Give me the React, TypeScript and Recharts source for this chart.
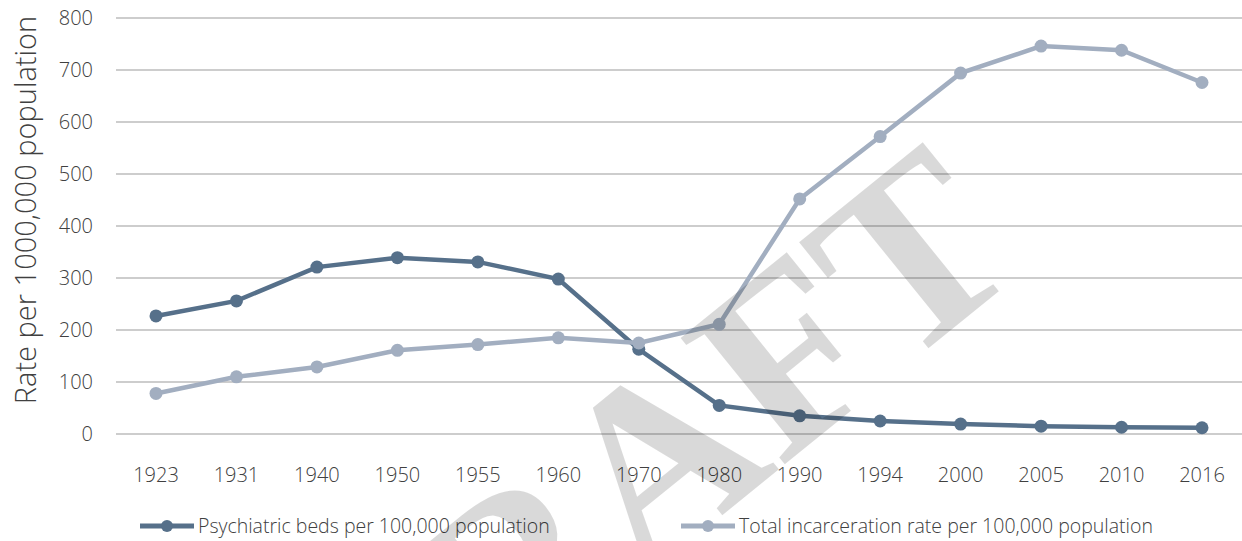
import { CartesianGrid, Legend, Line, LineChart, XAxis, YAxis } from "recharts";

const years = [
  "1923", "1931", "1940", "1950", "1955", "1960", "1970",
  "1980", "1990", "1994", "2000", "2005", "2010", "2016",
];
const psychiatricBeds = [227, 256, 321, 339, 331, 298, 163, 55, 35, 25, 19, 15, 13, 12];
const incarceration = [78, 110, 129, 161, 172, 185, 175, 211, 452, 572, 694, 746, 738, 676];
const yTicks = [0, 100, 200, 300, 400, 500, 600, 700, 800];

const seriesNames = {
  beds: "Psychiatric beds per 100,000 population",
  jail: "Total incarceration rate per 100,000 population",
};

const data = years.map((year, i) => ({
  year,
  beds: psychiatricBeds[i],
  jail: incarceration[i],
}));

const font = "'Open Sans', 'Noto Sans', sans-serif";
const textColor = "#404040";
const bedsColor = "#56708a";
const jailColor = "#a2aec0";
const W = 1242;
const H = 541;

const tick = { fontSize: 20, fill: textColor, fontFamily: font, fontWeight: 300 };

function LegendIcon({ color }: { color: string }) {
  return (
    <svg width={54} height={14} style={{ display: "block" }}>
      <line x1={0} y1={7} x2={54} y2={7} stroke={color} strokeWidth={5} />
      <circle cx={27} cy={7} r={6} fill={color} />
    </svg>
  );
}

function ChartLegend() {
  const items = [
    { key: "beds", color: bedsColor, left: 140 },
    { key: "jail", color: jailColor, left: 681 },
  ] as const;
  return (
    <div style={{ position: "relative", width: W, height: 30 }}>
      {items.map((it) => (
        <div
          key={it.key}
          style={{
            position: "absolute",
            left: it.left,
            top: 0,
            display: "flex",
            alignItems: "center",
            gap: 4,
            fontFamily: font,
            fontWeight: 300,
            fontSize: 19.5,
            color: textColor,
            whiteSpace: "nowrap",
          }}
        >
          <LegendIcon color={it.color} />
          <span>{seriesNames[it.key]}</span>
        </div>
      ))}
    </div>
  );
}

function YLabel() {
  return (
    <text
      x={24}
      y={210}
      transform="rotate(-90 24 210)"
      textAnchor="middle"
      dominantBaseline="central"
      fontFamily={font}
      fontWeight={300}
      fontSize={29}
      fill={textColor}
    >
      Rate per 1000,000 population
    </text>
  );
}

export default function App() {
  return (
    <div style={{ position: "absolute", left: 0, top: 0, width: W, height: H, background: "#fff" }}>
      <LineChart
        width={W}
        height={H}
        data={data}
        margin={{ top: 18, right: 0, left: 0, bottom: 0 }}
      >
        <CartesianGrid vertical={false} stroke="#bdbdbd" strokeWidth={1.3} />
        <XAxis
          dataKey="year"
          tick={tick}
          tickLine={false}
          axisLine={false}
          tickMargin={28}
          height={77}
          padding={{ left: 40, right: 40 }}
        />
        <YAxis
          domain={[0, 800]}
          ticks={yTicks}
          tick={tick}
          tickLine={false}
          axisLine={false}
          tickMargin={17}
          width={116}
          label={<YLabel />}
        />
        <Legend
          verticalAlign="bottom"
          height={30}
          wrapperStyle={{ position: "absolute", left: 0, top: 512, width: W, height: 30 }}
          content={() => <ChartLegend />}
        />
        <Line
          dataKey="beds"
          name={seriesNames.beds}
          stroke={bedsColor}
          strokeWidth={4.5}
          dot={{ r: 6.5, fill: bedsColor, stroke: "none" }}
          isAnimationActive={false}
        />
        <Line
          dataKey="jail"
          name={seriesNames.jail}
          stroke={jailColor}
          strokeWidth={4.5}
          dot={{ r: 6.5, fill: jailColor, stroke: "none" }}
          isAnimationActive={false}
        />
      </LineChart>
      <svg
        width={W}
        height={H}
        style={{ position: "absolute", left: 0, top: 0, pointerEvents: "none" }}
      >
        <text
          x={694}
          y={538}
          transform="rotate(-39 694 538)"
          textAnchor="middle"
          fontFamily="'Liberation Serif', serif"
          fontWeight="bold"
          fontSize={250}
          fill="#000"
          fillOpacity={0.15}
        >
          DRAFT
        </text>
      </svg>
    </div>
  );
}
